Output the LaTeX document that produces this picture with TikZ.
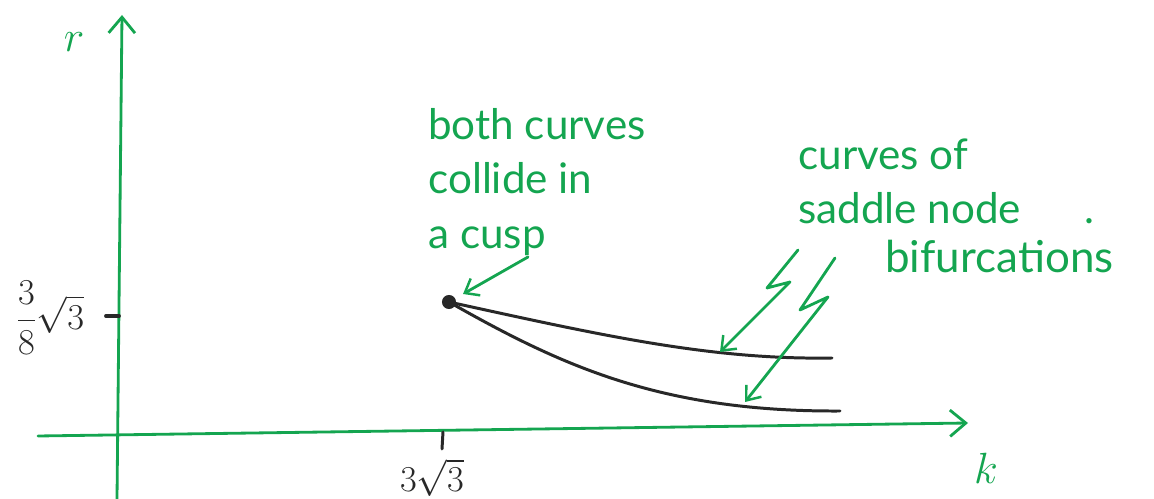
\documentclass[tikz,border=0pt]{standalone}
\usepackage{fontspec}
\usetikzlibrary{arrows.meta}
\newfontfamily\hand{Lato}
\definecolor{pen}{RGB}{20,165,80}
\definecolor{ink}{RGB}{40,40,40}
\begin{document}
\begin{tikzpicture}[x=0.02cm,y=-0.02cm,
  gr/.style={draw=pen, line width=1.6pt, line cap=round, line join=round},
  bk/.style={draw=ink, line width=1.7pt, line cap=round},
  barb/.style={-{Straight Barb[length=9pt,width=15pt,line width=1.6pt]}},
  smallbarb/.style={-{Straight Barb[length=7pt,width=11pt,line width=1.4pt]}},
  note/.style={text=pen, font=\hand\fontsize{24}{31}\selectfont, align=left, inner sep=0pt, anchor=north west},
  lab/.style={text=ink, font=\fontsize{22}{26}\selectfont, inner sep=0pt}]
\useasboundingbox (0,0) rectangle (1154,499);
% axes
\coordinate (yb) at (117,499);
\coordinate (yt) at (122,15);
\coordinate (xl) at (38,436);
\coordinate (xr) at (968,423);
\draw[gr, barb] (yb) -- (yt);
\draw[gr, barb] (xl) -- (xr);
\node[text=pen, font=\fontsize{26}{30}\selectfont, inner sep=0pt] (r) at (74,42) {$r$};
\node[text=pen, font=\fontsize{28}{30}\selectfont, inner sep=0pt] (k) at (986,468) {$k$};
% ticks
\coordinate (ty1) at (106,316);
\coordinate (ty2) at (119,316);
\draw[bk, line width=2.2pt] (ty1) -- (ty2);
\node[lab, font=\fontsize{20}{24}\selectfont] (ylab) at (50,318) {$\displaystyle\frac{3}{8}\sqrt{3}$};
\coordinate (tx1) at (443,432);
\coordinate (tx2) at (442,449);
\draw[bk] (tx1) -- (tx2);
\node[lab, anchor=south] (xlab) at (432,497) {$3\sqrt{3}$};
% cusp and curves
\node[circle, fill=ink, inner sep=0pt, minimum size=8pt] (cusp) at (449,302) {};
\coordinate (up) at (832,358);
\coordinate (lo) at (840,411);
\draw[bk] (cusp.center) .. controls (600,335) and (710,360) .. (up);
\draw[bk] (cusp.center) .. controls (560,365) and (660,412) .. (lo);
% annotations
\node[note] (t1) at (428,108) {both curves\\collide in\\a cusp};
\coordinate (a0) at (528,257);
\draw[gr, smallbarb, shorten >=5pt] (a0) -- (cusp);
\node[note] (t2) at (798,138) {curves of\\saddle node\hspace{1.5em}.};
\node[note, font=\hand\fontsize{25}{31}\selectfont] (t3) at (885,240) {bifurcations};
\coordinate (l1a) at (798,250);
\coordinate (l1b) at (767,288);
\coordinate (l1c) at (790,282);
\coordinate (l1d) at (720,352);
\draw[gr, smallbarb] (l1a) -- (l1b) -- (l1c) -- (l1d);
\coordinate (l2a) at (835,258);
\coordinate (l2b) at (800,310);
\coordinate (l2c) at (828,297);
\coordinate (l2d) at (745,402);
\draw[gr, smallbarb] (l2a) -- (l2b) -- (l2c) -- (l2d);
\end{tikzpicture}
\end{document}
